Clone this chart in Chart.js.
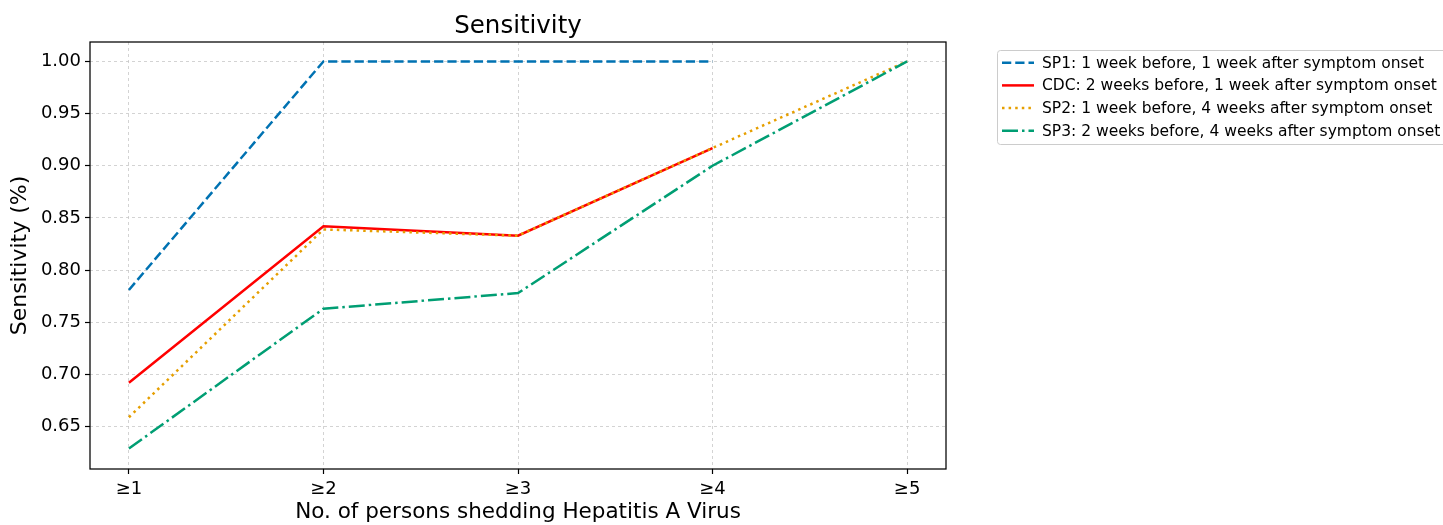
<!DOCTYPE html>
<html>
<head>
<meta charset="utf-8">
<script src="https://cdn.jsdelivr.net/npm/chart.js@4.4.1/dist/chart.umd.min.js"></script>
<style>
  html, body { margin: 0; padding: 0; background: #fff; }
  #wrap { width: 1443px; height: 525px; }
</style>
</head>
<body>
<div id="wrap"><canvas id="chart" width="1443" height="525"></canvas></div>
<script>
/* DATA */
const categories = ['≥1', '≥2', '≥3', '≥4', '≥5'];
const sp1 = [0.781, 1.000, 1.000, 1.000, null];
const cdc = [0.692, 0.842, 0.833, 0.917, null];
const sp2 = [0.659, 0.839, 0.833, 0.917, 1.000];
const sp3 = [0.629, 0.763, 0.778, 0.900, 1.000];
const seriesNames = [
  'SP1: 1 week before, 1 week after symptom onset',
  'CDC: 2 weeks before, 1 week after symptom onset',
  'SP2: 1 week before, 4 weeks after symptom onset',
  'SP3: 2 weeks before, 4 weeks after symptom onset'
];
const chartTitle = 'Sensitivity';
const yTicks = [0.65, 0.70, 0.75, 0.80, 0.85, 0.90, 0.95, 1.00];
const yMin = 0.6094, yMax = 1.0186;

const FONT = "'DejaVu Sans', sans-serif";
const toPts = arr => arr.map((v, i) => ({ x: i, y: v }));

/* title, plot frame + legend, matplotlib style */
const framePlugin = {
  id: 'frame',
  afterDraw(chart) {
    const { ctx, chartArea: a } = chart;
    ctx.save();
    ctx.strokeStyle = '#000';
    ctx.lineWidth = 1.25;
    ctx.strokeRect(a.left, a.top, a.right - a.left, a.bottom - a.top);

    // title centred over the axes
    ctx.fillStyle = '#000';
    ctx.font = '24.5px ' + FONT;
    ctx.textAlign = 'center';
    ctx.textBaseline = 'alphabetic';
    ctx.fillText(chartTitle, (a.left + a.right) / 2, 33);

    // legend box
    const bx = 997.5, by = 50.5, bw = 460, bh = 94;
    ctx.fillStyle = 'rgba(255,255,255,0.8)';
    ctx.strokeStyle = '#cccccc';
    ctx.lineWidth = 1;
    ctx.beginPath();
    ctx.roundRect(bx, by, bw, bh, 3);
    ctx.fill();
    ctx.stroke();

    ctx.font = '15.5px ' + FONT;
    ctx.textBaseline = 'middle';
    ctx.textAlign = 'left';
    chart.data.datasets.forEach((ds, i) => {
      const y = 62.7 + i * 22.7;
      ctx.strokeStyle = ds.borderColor;
      ctx.lineWidth = ds.borderWidth;
      ctx.setLineDash(ds.borderDash || []);
      ctx.beginPath();
      ctx.moveTo(1002, y);
      ctx.lineTo(1034, y);
      ctx.stroke();
      ctx.setLineDash([]);
      ctx.fillStyle = '#000';
      ctx.fillText(ds.label, 1042, y + 1);
    });
    ctx.restore();
  }
};

new Chart(document.getElementById('chart'), {
  type: 'line',
  data: {
    datasets: [
      { label: seriesNames[0], data: toPts(sp1), borderColor: '#0072B2', borderDash: [9.25, 4], order: 4 },
      { label: seriesNames[1], data: toPts(cdc), borderColor: '#FF0000', borderDash: [], order: 3 },
      { label: seriesNames[2], data: toPts(sp2), borderColor: '#E69F00', borderDash: [2.5, 4.1], order: 2 },
      { label: seriesNames[3], data: toPts(sp3), borderColor: '#009E73', borderDash: [16, 4, 2.5, 4], order: 1 }
    ].map(d => Object.assign(d, {
      borderWidth: 2.5, pointRadius: 0, tension: 0, fill: false,
      borderCapStyle: 'butt', spanGaps: false
    }))
  },
  options: {
    responsive: false, animation: false, devicePixelRatio: 1,
    layout: { padding: { left: 0, right: 1443 - 946, top: 42, bottom: 0 } },
    plugins: {
      legend: { display: false },
      tooltip: { enabled: false },
      title: { display: false }
    },
    scales: {
      x: {
        type: 'linear', min: -0.2, max: 4.2,
        afterFit: s => { s.height = 56; },
        ticks: {
          stepSize: 1, includeBounds: false, color: '#000', padding: 5,
          font: { family: FONT, size: 18 },
          callback: v => categories[v] ?? ''
        },
        grid: { color: '#c8c8c8', lineWidth: 0.8, tickLength: 5, tickColor: '#000', tickWidth: 1.2 },
        border: { display: false, dash: [3, 3] },
        title: {
          display: true, text: 'No. of persons shedding Hepatitis A Virus', color: '#000',
          font: { family: FONT, size: 21.5 }, padding: { top: 0, bottom: 0 }
        }
      },
      y: {
        min: yMin, max: yMax,
        afterFit: s => { s.width = 90; },
        afterBuildTicks: s => { s.ticks = yTicks.map(v => ({ value: v })); },
        ticks: {
          color: '#000', padding: 4,
          font: { family: FONT, size: 18 },
          callback: v => v.toFixed(2)
        },
        grid: { color: '#c8c8c8', lineWidth: 0.8, tickLength: 5, tickColor: '#000', tickWidth: 1.2 },
        border: { display: false, dash: [3, 3] },
        title: {
          display: true, text: 'Sensitivity (%)', color: '#000',
          font: { family: FONT, size: 22 }, padding: { top: 7, bottom: 0 }
        }
      }
    }
  },
  plugins: [framePlugin]
});
</script>
</body>
</html>
